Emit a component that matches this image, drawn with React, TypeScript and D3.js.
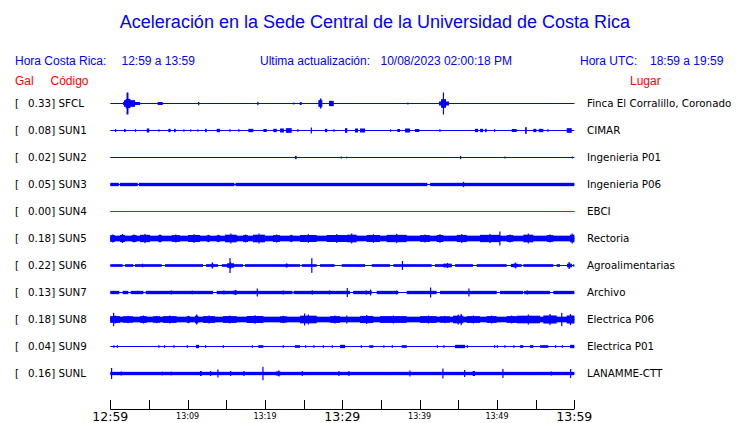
import React from "react";
import * as d3 from "d3";

// ---------- data ----------
const codes = ["SFCL", "SUN1", "SUN2", "SUN3", "SUN4", "SUN5", "SUN6", "SUN7", "SUN8", "SUN9", "SUNL"];
const places = [
  "Finca El Corralillo, Coronado",
  "CIMAR",
  "Ingenieria P01",
  "Ingenieria P06",
  "EBCI",
  "Rectoria",
  "Agroalimentarias",
  "Archivo",
  "Electrica P06",
  "Electrica P01",
  "LANAMME-CTT",
];
const peaks = [0.33, 0.08, 0.02, 0.05, 0.0, 0.18, 0.22, 0.13, 0.18, 0.04, 0.16];
// background noise half-amplitude (Gal)
const baseAmps = [0, 0, 0, 0.05, 0, 0.085, 0.04, 0.05, 0.085, 0, 0.05];
const traceColors = ["#0000ff", "#0000ff", "#0000ff", "#0000ff", "#ff0000", "#0000ff", "#0000ff", "#0000ff", "#0000ff", "#0000ff", "#0000ff"];

// bursts: [start minute, end minute, half amplitude in Gal]
const sfclEvents = [
  [1.65, 3.85, 0.045], [1.77, 3.2, 0.1], [2.0, 2.6, 0.14], [2.1, 2.35, 0.33],
  [6.13, 6.78, 0.045], [11.35, 11.48, 0.05], [19.0, 19.13, 0.05], [23.65, 23.78, 0.03],
  [24.5, 24.75, 0.045], [26.9, 27.42, 0.1], [27.1, 27.3, 0.15], [28.28, 28.89, 0.08],
  [38.41, 38.54, 0.03], [42.5, 43.8, 0.06], [42.77, 43.41, 0.13], [43.0, 43.13, 0.33],
];
const sun1Events = [
  [0.61, 0.61, 0.045], [1.77, 1.99, 0.045], [3.19, 3.19, 0.04], [4.71, 5.04, 0.06],
  [6.21, 6.21, 0.035], [7.5, 7.81, 0.05], [8.24, 8.46, 0.05], [9.44, 9.44, 0.035],
  [10.31, 10.31, 0.035], [11.25, 11.25, 0.035], [12.25, 12.47, 0.05], [13.76, 14.19, 0.05],
  [15.39, 15.39, 0.04], [16.55, 16.55, 0.04], [17.85, 18.49, 0.05], [19.79, 20.23, 0.045],
  [21.08, 21.52, 0.05], [21.95, 22.45, 0.06], [22.7, 23.46, 0.07], [24.18, 24.18, 0.04],
  [25.92, 25.92, 0.09], [27.76, 28.06, 0.05], [28.84, 28.84, 0.04], [30.35, 30.65, 0.07],
  [31.64, 32.03, 0.06], [32.29, 32.94, 0.06], [36.17, 36.17, 0.035], [37.11, 37.46, 0.045],
  [38.11, 38.76, 0.06], [39.4, 39.96, 0.045], [42.54, 42.54, 0.04], [47.16, 47.55, 0.05],
  [47.81, 48.2, 0.05], [48.45, 48.67, 0.05], [49.62, 49.62, 0.04], [51.91, 52.55, 0.045],
  [53.63, 53.85, 0.1], [54.7, 55.1, 0.05], [55.4, 55.99, 0.05], [56.51, 56.51, 0.04],
  [59.02, 59.67, 0.07],
];
const sun2Events = [
  [23.88, 24.1, 0.05], [29.79, 29.79, 0.03], [30.48, 30.48, 0.025], [45.22, 45.22, 0.05],
  [50.95, 50.95, 0.03], [59.67, 59.67, 0.03],
];
const sun3Events = [[45.6, 45.7, 0.08]];
const sun4Events = [];
const sun5Events = [
  [0, 0.61, 0.12], [1.25, 1.9, 0.135], [2.77, 3.41, 0.12], [3.84, 5.13, 0.14],
  [6.21, 6.65, 0.12], [7.94, 9.01, 0.12], [10.05, 11.6, 0.13], [12.47, 12.89, 0.11],
  [13.76, 14.19, 0.11], [14.83, 16.35, 0.15], [17.16, 17.81, 0.12], [18.45, 20.0, 0.15],
  [21.04, 21.95, 0.12], [23.2, 23.59, 0.11], [24.53, 26.69, 0.13], [27.98, 30.57, 0.13],
  [30.57, 31.86, 0.15], [33.16, 34.88, 0.13], [35.74, 38.33, 0.14], [40.05, 41.34, 0.12],
  [42.21, 43.06, 0.13], [44.8, 46.09, 0.135], [47.81, 50.39, 0.14], [50.3, 50.4, 0.21],
  [51.26, 52.11, 0.12], [53.41, 54.7, 0.15], [56.43, 57.29, 0.12], [59.45, 60, 0.15],
];
const sun6Events = [
  [4.1, 4.2, 0.055], [13.1, 13.3, 0.09], [15.1, 16.0, 0.1], [15.4, 15.55, 0.225],
  [22.6, 23.0, 0.06], [25.98, 26.1, 0.22], [37.7, 37.85, 0.135], [43.06, 44.15, 0.075],
  [51.8, 52.7, 0.06], [52.35, 52.5, 0.09], [59.06, 59.71, 0.07], [59.25, 59.4, 0.105],
];
const sun7Events = [
  [7.81, 7.81, 0.06], [10.53, 10.53, 0.055], [14.61, 14.61, 0.06], [15.9, 16.4, 0.06],
  [16.13, 16.13, 0.075], [18.93, 18.93, 0.12], [22.29, 22.29, 0.06], [26.04, 26.04, 0.065],
  [28.28, 28.28, 0.06], [30.57, 30.57, 0.135], [33.0, 33.2, 0.06], [33.58, 33.58, 0.09],
  [36.95, 36.95, 0.06], [41.34, 41.34, 0.15], [46.29, 46.29, 0.12], [53.85, 53.85, 0.06],
];
const sun8Events = [
  [0, 1.25, 0.12], [0.35, 0.45, 0.2], [1.64, 2.94, 0.11], [3.84, 4.71, 0.12],
  [5.52, 6.43, 0.11], [6.81, 8.59, 0.12], [9.88, 10.31, 0.11], [10.95, 11.38, 0.15],
  [11.99, 13.54, 0.12], [14.57, 16.35, 0.12], [17.64, 19.79, 0.13], [21.95, 22.81, 0.11],
  [24.53, 26.69, 0.15], [25.05, 25.15, 0.18], [28.41, 29.7, 0.12], [30.5, 30.65, 0.12],
  [32.29, 34.01, 0.135], [34.88, 38.33, 0.12], [40.05, 42.21, 0.12], [42.6, 43.9, 0.11],
  [44.32, 45.65, 0.15], [45.3, 45.45, 0.17], [46.09, 47.81, 0.12], [48.67, 49.97, 0.12],
  [51.26, 52.55, 0.12], [52.55, 55.57, 0.15], [55.99, 57.72, 0.165], [58.3, 58.45, 0.2],
  [59.02, 60, 0.165],
];
const sun9Events = [
  [0.39, 0.39, 0.04], [0.83, 0.83, 0.04], [6.21, 6.21, 0.04], [6.94, 6.94, 0.04],
  [8.15, 8.15, 0.04], [9.88, 9.88, 0.04], [11.08, 11.47, 0.05], [12.25, 12.25, 0.04],
  [14.54, 14.54, 0.04], [18.29, 18.29, 0.04], [19.14, 19.79, 0.04], [22.29, 22.29, 0.04],
  [23.88, 24.53, 0.04], [25.18, 25.18, 0.04], [26.25, 26.25, 0.04], [27.47, 27.47, 0.04],
  [28.63, 28.63, 0.04], [29.7, 30.35, 0.05], [32.38, 32.38, 0.04], [33.49, 34.01, 0.04],
  [35.3, 35.3, 0.04], [36.39, 36.39, 0.04], [37.68, 38.33, 0.04], [42.21, 42.21, 0.04],
  [43.06, 43.06, 0.04], [44.58, 45.87, 0.05], [46.09, 46.09, 0.04], [49.62, 49.62, 0.04],
  [49.97, 49.97, 0.04], [50.95, 50.95, 0.04], [52.11, 52.11, 0.04], [52.98, 53.41, 0.04],
  [54.27, 54.7, 0.04], [55.57, 56.64, 0.04], [57.51, 57.51, 0.04], [58.37, 58.37, 0.04],
  [59.45, 60, 0.05],
];
const sunlEvents = [
  [0.09, 0.09, 0.165], [1.34, 1.34, 0.06], [6.65, 6.65, 0.055], [7.81, 7.81, 0.055],
  [11.6, 11.82, 0.075], [12.89, 12.89, 0.075], [13.84, 13.84, 0.12], [15.48, 15.48, 0.075],
  [17.2, 17.2, 0.075], [19.66, 19.66, 0.2], [21.4, 22.0, 0.065], [21.73, 21.73, 0.09],
  [24.75, 24.75, 0.075], [29.48, 29.48, 0.075], [30.78, 30.78, 0.075], [38.67, 38.67, 0.09],
  [42.93, 42.93, 0.15], [45.74, 45.74, 0.105], [46.86, 47.16, 0.075], [50.69, 50.69, 0.135],
  [56.95, 56.95, 0.06], [59.45, 59.45, 0.135],
];

// quiet stretches (minutes) where the noise band drops to the bare trace
const sun3Gaps = [[1.1, 1.25], [3.55, 3.7], [16.05, 16.2], [41.0, 41.35]];
const sun6Gaps = [
  [1.6, 1.9], [2.97, 3.19], [6.65, 7.08], [11.99, 12.38], [13.93, 14.41], [17.16, 17.42],
  [22.6, 22.86], [24.53, 24.75], [26.69, 27.12], [29.0, 29.92], [32.94, 33.8], [36.17, 36.6],
  [41.56, 41.99], [44.15, 44.58], [46.9, 47.38], [51.26, 52.11], [53.2, 53.41], [57.29, 57.72],
  [58.15, 59.87],
];
const sun7Gaps = [
  [1.16, 1.6], [2.33, 2.64], [4.27, 4.58], [13.28, 13.76], [23.55, 23.7], [31.0, 31.4],
  [33.8, 34.45], [37.24, 38.33], [42.2, 42.64], [49.97, 50.39], [53.37, 53.5], [56.86, 57.29],
];

const eventsByRow = [sfclEvents, sun1Events, sun2Events, sun3Events, sun4Events, sun5Events, sun6Events, sun7Events, sun8Events, sun9Events, sunlEvents];
const gapsByRow = [[], [], [], sun3Gaps, [], [], sun6Gaps, sun7Gaps, [], [], []];

const tickMinutes = [0, 5, 10, 15, 20, 25, 30, 35, 40, 45, 50, 55, 60];
const labelMinutes = [0, 10, 20, 30, 40, 50, 60];
const tickLabels = ["12:59", "13:09", "13:19", "13:29", "13:39", "13:49", "13:59"];
const bigLabels = [true, false, false, true, false, false, true];

const title = "Aceleración en la Sede Central de la Universidad de Costa Rica";

// ---------- layout ----------
const W = 740;
const H = 423;
const BLUE = "#0000ff";
const RED = "#ff0000";
const x = d3.scaleLinear().domain([0, 60]).range([110.3, 574.3]);
const rowY = d3.scaleLinear().domain([0, codes.length - 1]).range([103, 373]);
const amp = d3.scaleLinear().domain([0, 0.33]).range([0, 11]);
const axisY = 409;

function complement(gaps: number[][]): number[][] {
  const out: number[][] = [];
  let s = 0;
  [...gaps].sort((a, b) => a[0] - b[0]).forEach(([a, b]) => {
    if (a > s) out.push([s, a]);
    s = Math.max(s, b);
  });
  if (s < 60) out.push([s, 60]);
  return out;
}

function Trace({ i }: { i: number }) {
  const cy = rowY(i) + 0.5;
  const color = traceColors[i];
  const base = baseAmps[i];
  const bands = base > 0 ? complement(gapsByRow[i]).map(([a, b]) => [a, b, base]) : [];
  const marks: { x0: number; w: number; h: number }[] = [];
  bands.forEach((e) => marks.push({ x0: x(e[0]), w: x(e[1]) - x(e[0]), h: amp(e[2]) }));
  eventsByRow[i].forEach((e) => {
    const x0 = x(e[0]);
    const w = Math.max(1.2, x(e[1]) - x0);
    const h = amp(e[2]);
    if (w > 3 && base > 0) {
      // long bursts over a noisy band: body at part height, peak spike in the middle
      const hb = amp(base) + (h - amp(base)) * 0.45;
      marks.push({ x0, w, h: hb });
      marks.push({ x0: x0 + w / 2 - 0.6, w: 1.2, h });
    } else {
      marks.push({ x0, w, h });
    }
  });
  return (
    <g>
      <line x1={x(0)} x2={x(60)} y1={cy} y2={cy} stroke={color} strokeWidth={1} />
      {marks.map((m, k) => (
        <rect key={k} x={m.x0} y={cy - m.h} width={m.w} height={2 * m.h} fill={color} />
      ))}
    </g>
  );
}

export default function App() {
  const sans = "'Liberation Sans', Arial, Helvetica, sans-serif";
  const dv = "'DejaVu Sans', sans-serif";
  return (
    <svg width={W} height={H} style={{ position: "absolute", left: 0, top: 0, background: "#fff" }}>
      <rect width={W} height={H} fill="#fff" />
      <text x={375} y={28} textAnchor="middle" fontFamily={sans} fontSize={18} fill={BLUE}>{title}</text>

      <g fontFamily={sans} fontSize={12} fill={BLUE}>
        <text x={15} y={65}>Hora Costa Rica:</text>
        <text x={121.5} y={65}>12:59 a 13:59</text>
        <text x={260} y={65}>Ultima actualización:</text>
        <text x={380.5} y={65}>10/08/2023 02:00:18 PM</text>
        <text x={580} y={65}>Hora UTC:</text>
        <text x={650} y={65}>18:59 a 19:59</text>
      </g>
      <g fontFamily={sans} fontSize={12} fill={RED}>
        <text x={15} y={85}>Gal</text>
        <text x={50.5} y={85}>Código</text>
        <text x={630} y={85}>Lugar</text>
      </g>

      {codes.map((c, i) => (
        <g key={c} fontFamily={dv} fontSize={10.3} fill="#000">
          <text x={15} y={rowY(i) + 3.7}>[</text>
          <text x={51} y={rowY(i) + 3.7} textAnchor="end">{peaks[i].toFixed(2)}</text>
          <text x={51.3} y={rowY(i) + 3.7}>]</text>
          <text x={58.5} y={rowY(i) + 3.7}>{c}</text>
          <text x={587} y={rowY(i) + 3.7}>{places[i]}</text>
        </g>
      ))}

      {codes.map((c, i) => <Trace key={c} i={i} />)}

      <g stroke="#000" strokeWidth={1}>
        <line x1={x(0)} x2={x(60)} y1={axisY + 0.5} y2={axisY + 0.5} />
        {tickMinutes.map((m) => (
          <line key={m} x1={Math.round(x(m)) + 0.5} x2={Math.round(x(m)) + 0.5} y1={axisY - 9} y2={axisY} />
        ))}
      </g>
      {labelMinutes.map((m, k) => (
        <text
          key={m}
          x={x(m)}
          y={bigLabels[k] ? 420.5 : 418.5}
          textAnchor="middle"
          fontFamily={dv}
          fontSize={bigLabels[k] ? 12.5 : 8}
          fill="#000"
        >
          {tickLabels[k]}
        </text>
      ))}
    </svg>
  );
}
